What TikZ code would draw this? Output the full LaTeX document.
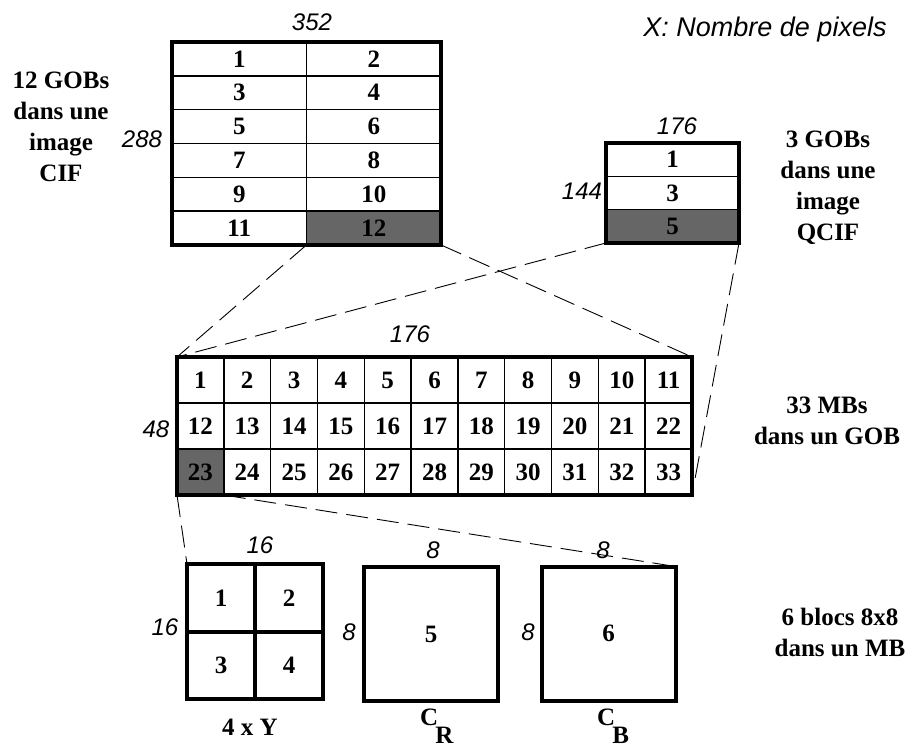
\documentclass[tikz,border=0pt]{standalone}
\usepackage{fontspec}
\setmainfont{Liberation Serif}
\setsansfont{Liberation Sans}
\usetikzlibrary{positioning}
\definecolor{selgray}{RGB}{102,102,102}

\begin{document}
\begin{tikzpicture}[
				x=1pt, y=-1pt,
				cellbase/.style={
					draw,
					line width=1.5pt,
					inner sep=0pt,
					outer sep=0pt,
					font=\fontsize{25}{25}\selectfont\bfseries
				},
				gob/.style={
					cellbase,
					minimum width=134.5pt,
					minimum height=33.8pt
				},
				qgob/.style={
					cellbase,
					minimum width=133pt,
					minimum height=33.3pt
				},
				mb/.style={
					cellbase,
					minimum width=46.8pt,
					minimum height=46pt
				},
				bloc/.style={
					cellbase,
					line width=4pt
				},
				frame/.style={
					line width=4pt
				},
				dim/.style={
					font=\fontsize{24}{24}\selectfont\sffamily\itshape
				},
				legend/.style={
					align=center,
					font=\fontsize{25}{31}\selectfont\bfseries
				},
				link/.style={
					dash pattern=on 22pt off 9pt,
					line width=0.9pt
				}
				]
				
				\useasboundingbox (0,0) rectangle (911,748);
				
				% image CIF : 12 GOBs
				\foreach \n in {1,...,12} {
					\pgfmathtruncatemacro\c{mod(\n-1,2)}
					\pgfmathtruncatemacro\r{div(\n-1,2)}
					\ifnum\n=12 \def\cellfill{selgray}\else\def\cellfill{white}\fi
					\node[gob, fill=\cellfill] (cif\n) at ({239.25+134.5*\c}, {58.9+33.83*\r}) {\n};
				}
				\draw[frame] (cif1.north west) rectangle (cif12.south east);
				
				% image QCIF : 3 GOBs
				\foreach \n [count=\r from 0] in {1,3,5} {
					\ifnum\n=5 \def\cellfill{selgray}\else\def\cellfill{white}\fi
					\node[qgob, fill=\cellfill] (qcif\n) at (672.5, {159.7+33.3*\r}) {\n};
				}
				\draw[frame] (qcif1.north west) rectangle (qcif5.south east);
				
				% GOB : 33 MBs
				\foreach \n in {1,...,33} {
					\pgfmathtruncatemacro\c{mod(\n-1,11)}
					\pgfmathtruncatemacro\r{div(\n-1,11)}
					\ifnum\n=23 \def\cellfill{selgray}\else\def\cellfill{white}\fi
					\node[mb, fill=\cellfill] (mb\n) at ({200.4+46.82*\c}, {380+46*\r}) {\n};
				}
				\draw[frame] (mb1.north west) rectangle (mb33.south east);
				
				% MB : 6 blocs
				\node[bloc, minimum width=68pt, minimum height=67.5pt] (y1) at (221, 597.75) {1};
				\node[bloc, minimum width=68pt, minimum height=67.5pt, right=0pt of y1] (y2) {2};
				\node[bloc, minimum width=68pt, minimum height=67.5pt, below=0pt of y1] (y3) {3};
				\node[bloc, minimum width=68pt, minimum height=67.5pt, right=0pt of y3] (y4) {4};
				\node[bloc, minimum size=134pt] (cr) at (431, 634) {5};
				\node[bloc, minimum size=134pt] (cb) at (608.5, 633.5) {6};
				
				% cotes
				\node[dim] (w352) at (312, 22) {352};
				\node[dim] (h288) at (142, 139) {288};
				\node[dim] (w176q) at (677, 126) {176};
				\node[dim] (h144) at (582, 191) {144};
				\node[dim] (w176) at (410, 334) {176};
				\node[dim] (h48) at (156, 429) {48};
				\node[dim] (w16) at (260, 545) {16};
				\node[dim] (h16) at (165, 627) {16};
				\node[dim] (w8r) at (433, 550) {8};
				\node[dim] (h8r) at (349, 632) {8};
				\node[dim] (w8b) at (603, 550) {8};
				\node[dim] (h8b) at (528, 632) {8};
				\node[dim, font=\fontsize{27}{27}\selectfont\sffamily\itshape] (unite) at (765, 30) {X: Nombre de pixels};
				
				% legendes
				\node[legend] (lcif) at (61, 127) {12 GOBs\\dans une\\image\\CIF};
				\node[legend] (lqcif) at (828, 188) {3 GOBs\\dans une\\image\\QCIF};
				\node[legend] (lgob) at (827, 421) {33 MBs\\dans un GOB};
				\node[legend] (lmb) at (840, 632) {6 blocs 8x8\\dans un MB};
				\node[legend, anchor=base] (ly) at (250, 735) {4 x Y};
				\node[legend, anchor=base west, inner sep=0pt] (lcr) at (420, 725) {C\kern-3pt\raisebox{-18pt}{R}};
				\node[legend, anchor=base west, inner sep=0pt] (lcb) at (597, 725) {C\kern-3pt\raisebox{-18pt}{B}};
				
				% agrandissements
				\draw[link] (cif11.south east) -- (mb1.north west);
				\draw[link] (cif12.south east) -- (mb11.north east);
				\draw[link] (qcif5.south west) -- (mb1.north west);
				\draw[link] (qcif5.south east) -- (mb33.south east);
				\draw[link] (mb23.south west) -- (y1.north west);
				\draw[link] (mb23.south east) -- (cb.north east);
				
			\end{tikzpicture}
\end{document}
